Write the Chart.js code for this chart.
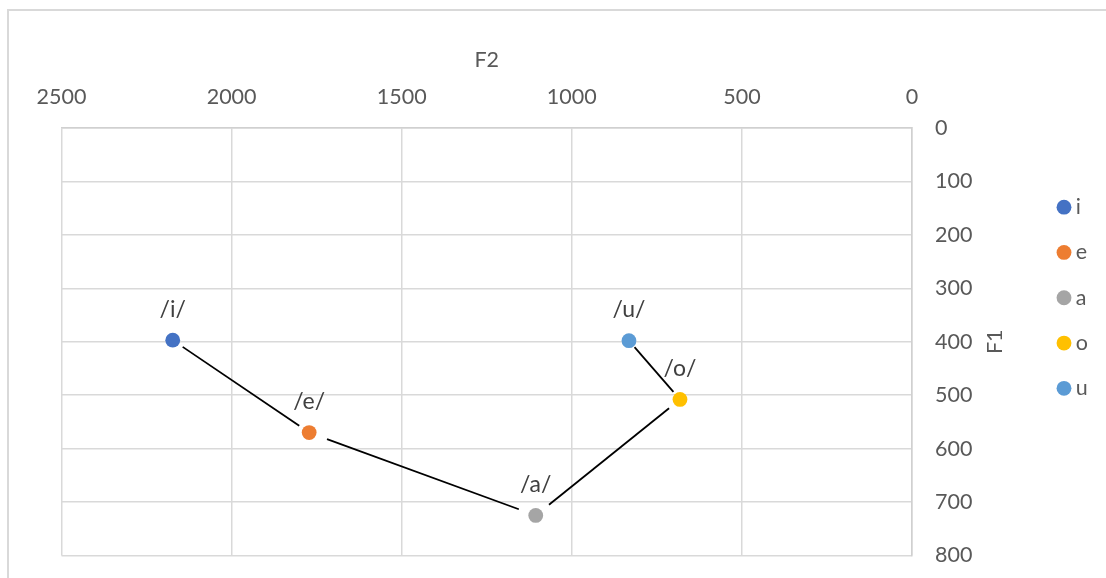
<!DOCTYPE html>
<html>
<head>
<meta charset="utf-8">
<title>F1 / F2</title>
<script src="https://cdn.jsdelivr.net/npm/chart.js@4.4.1/dist/chart.umd.min.js"></script>
<style>
  html, body { margin: 0; padding: 0; background: #fff; }
  #wrap { position: relative; width: 1106px; height: 578px; overflow: hidden; }
  #frame { position: absolute; left: 7px; top: 9px; width: 1200px; height: 700px;
           border-top: 2px solid #d9d9d9; border-left: 2px solid #d9d9d9; }
  canvas { position: absolute; left: 0; top: 0; }
</style>
</head>
<body>
<div id="wrap">
  <div id="frame"></div>
  <canvas id="chart" width="1106" height="578"></canvas>
</div>
<script>
// Vowel formant measurements (Hz)
const vowels   = ['i', 'e', 'a', 'o', 'u'];
const f2Values = [2173, 1772, 1106, 682, 832];
const f1Values = [397, 570, 725, 508, 398];
const vowelColors = ['#4472C4', '#ED7D31', '#A5A5A5', '#FFC000', '#5B9BD5'];
// Order in which the vowel points are joined
const linkOrder = ['i', 'e', 'a', 'o', 'u'];
// Axis ranges
const f2Range = { min: 0, max: 2500, step: 500 };
const f1Range = { min: 0, max: 800, step: 100 };

const FONT = 'Lato';
const TEXT = '#595959';
const GRID = '#d9d9d9';

// Thin black segments joining the vowels, stopping short of each marker
const vowelLinks = {
  id: 'vowelLinks',
  beforeDatasetsDraw(chart, args, opts) {
    const ctx = chart.ctx;
    ctx.save();
    ctx.strokeStyle = opts.color;
    ctx.lineWidth = opts.width;
    for (let k = 0; k < opts.order.length - 1; k++) {
      const a = chart.getDatasetMeta(vowels.indexOf(opts.order[k])).data[0];
      const b = chart.getDatasetMeta(vowels.indexOf(opts.order[k + 1])).data[0];
      const dx = b.x - a.x, dy = b.y - a.y, len = Math.hypot(dx, dy);
      const g = opts.gaps[k];
      ctx.beginPath();
      ctx.moveTo(a.x + dx * g[0] / len, a.y + dy * g[0] / len);
      ctx.lineTo(b.x - dx * g[1] / len, b.y - dy * g[1] / len);
      ctx.stroke();
    }
    ctx.restore();
  }
};

// "/v/" labels above each marker
const vowelLabels = {
  id: 'vowelLabels',
  afterDatasetsDraw(chart, args, opts) {
    const ctx = chart.ctx;
    ctx.save();
    ctx.font = opts.size + 'px ' + FONT;
    ctx.fillStyle = opts.color;
    ctx.textAlign = 'center';
    ctx.textBaseline = 'middle';
    chart.data.datasets.forEach((ds, i) => {
      const p = chart.getDatasetMeta(i).data[0];
      ctx.fillText('/' + ds.label + '/', p.x, p.y - opts.offset);
    });
    ctx.restore();
  }
};

// Vertical axis title, reading bottom to top
const f1Title = {
  id: 'f1Title',
  afterDraw(chart, args, opts) {
    const { ctx, chartArea } = chart;
    ctx.save();
    ctx.translate(chartArea.right + opts.offset, (chartArea.top + chartArea.bottom) / 2);
    ctx.rotate(-Math.PI / 2);
    ctx.font = opts.size + 'px ' + FONT;
    ctx.fillStyle = TEXT;
    ctx.textAlign = 'center';
    ctx.textBaseline = 'middle';
    ctx.fillText(opts.text, 0, 0);
    ctx.restore();
  }
};

const plainNumber = v => String(v);

function build() {
  Chart.defaults.font.family = FONT;
  Chart.defaults.color = TEXT;

  const datasets = vowels.map((v, i) => ({
    label: v,
    data: [{ x: f2Values[i], y: f1Values[i] }],
    backgroundColor: vowelColors[i],
    borderColor: vowelColors[i],
    borderWidth: 0,
    pointRadius: 7.4,
    pointHoverRadius: 7.4,
    pointStyle: 'circle'
  }));

  new Chart(document.getElementById('chart'), {
    type: 'scatter',
    data: { datasets },
    plugins: [vowelLinks, vowelLabels, f1Title],
    options: {
      responsive: false,
      animation: false,
      events: [],
      layout: { padding: { left: 61.5, top: 40, right: 16.8, bottom: 22.5 } },
      scales: {
        x: {
          type: 'linear',
          position: 'top',
          reverse: true,
          min: f2Range.min,
          max: f2Range.max,
          ticks: { stepSize: f2Range.step, padding: 18, color: TEXT, font: { size: 21.5 }, maxRotation: 0, callback: plainNumber },
          grid: { color: GRID, lineWidth: 1.5, drawTicks: false },
          border: { color: '#d0d0d0', width: 1.5 },
          title: { display: true, text: 'F2', color: TEXT, font: { size: 21.5 }, padding: { top: 7, bottom: 0 } },
          afterFit(scale) { scale.height = 88; scale.paddingLeft = 0; scale.paddingRight = 0; }
        },
        y: {
          type: 'linear',
          position: 'right',
          reverse: true,
          min: f1Range.min,
          max: f1Range.max,
          ticks: { stepSize: f1Range.step, padding: 23, color: TEXT, font: { size: 21.5 }, callback: plainNumber },
          grid: { color: GRID, lineWidth: 1.5, drawTicks: false },
          border: { color: '#d0d0d0', width: 1.5 },
          afterFit(scale) { scale.width = 127.2; scale.paddingTop = 0; scale.paddingBottom = 0; }
        }
      },
      plugins: {
        legend: {
          position: 'right',
          align: 'center',
          maxWidth: 50,
          labels: {
            usePointStyle: true,
            boxWidth: 2,
            boxHeight: 10.5,
            padding: 23.8,
            color: TEXT,
            font: { size: 21.5 }
          }
        },
        tooltip: { enabled: false },
        vowelLinks: {
          order: linkOrder,
          color: '#000',
          width: 1.8,
          gaps: [[12, 12], [19, 18], [17, 14], [10, 8.5]]
        },
        vowelLabels: { size: 23, color: '#404040', offset: 31 },
        f1Title: { text: 'F1', size: 21.5, offset: 83.5 }
      }
    }
  });
}

if (document.fonts && document.fonts.load) {
  document.fonts.load('21px ' + FONT).then(build, build);
} else {
  build();
}
</script>
</body>
</html>
